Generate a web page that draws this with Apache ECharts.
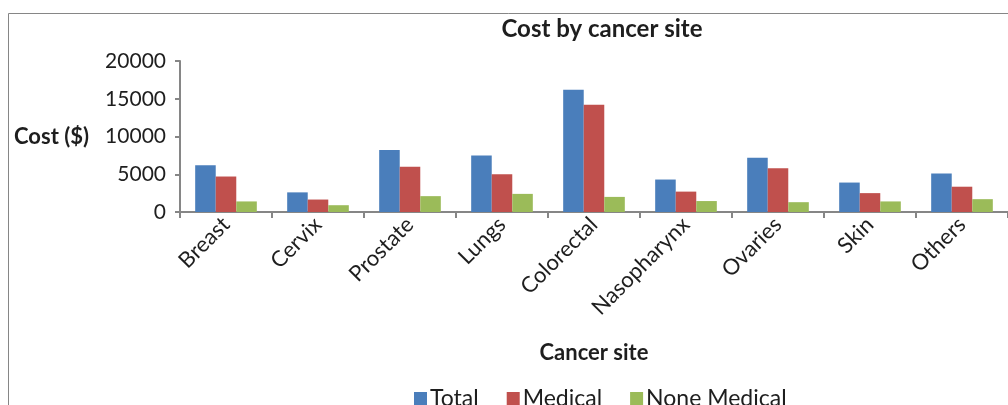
<!DOCTYPE html>
<html>
<head>
<meta charset="utf-8">
<script src="https://cdn.jsdelivr.net/npm/echarts@6/dist/echarts.min.js"></script>
<style>
html,body{margin:0;padding:0;background:#fff;}
#chart{width:1008px;height:405px;}
</style>
</head>
<body>
<div id="chart"></div>
<script>
const categories = ['Breast','Cervix','Prostate','Lungs','Colorectal','Nasopharynx','Ovaries','Skin','Others'];
const totalValues = [6200, 2600, 8200, 7500, 16200, 4300, 7200, 3900, 5100];
const medicalValues = [4700, 1650, 6000, 5000, 14200, 2700, 5800, 2500, 3350];
const noneMedicalValues = [1400, 900, 2100, 2400, 2000, 1450, 1300, 1400, 1700];
const seriesNames = ['Total','Medical','None Medical'];
const yTicks = { min: 0, max: 20000, interval: 5000 };

const FONT = 'Lato, "Open Sans", sans-serif';
const chart = echarts.init(document.getElementById('chart'), null, {renderer:'canvas'});
const axisColor = '#868686';
const textColor = '#1e1e1e';

chart.setOption({
  animation: false,
  textStyle: { fontFamily: FONT },
  graphic: [
    { type:'rect', z:-1, shape:{x:8.5, y:13.5, width:1100, height:500}, style:{fill:'#fff', stroke:axisColor, lineWidth:1} },
    { type:'text', left:14, top:126, style:{ text:'Cost ($)', font:'bold 22px ' + FONT, fill:textColor } }
  ],
  title: {
    text: 'Cost by cancer site',
    left: 597, top: 12, textAlign: 'center',
    textStyle: { fontFamily: FONT, fontWeight: 'bold', fontSize: 24, color: textColor }
  },
  legend: {
    data: seriesNames,
    left: 409, top: 382,
    itemWidth: 13, itemHeight: 13, itemGap: 28,
    icon: 'rect',
    textStyle: { fontFamily: FONT, fontSize: 23, color: textColor, padding:[0,0,0,-2] }
  },
  grid: { left: 180, top: 61, width: 833, height: 151, containLabel: false },
  xAxis: {
    type: 'category',
    data: categories,
    name: 'Cancer site',
    nameLocation: 'middle',
    nameGap: 130,
    nameTextStyle: { fontFamily: FONT, fontWeight: 'bold', fontSize: 22, color: textColor },
    axisLine: { lineStyle: { color: axisColor, width: 2 } },
    axisTick: { show: true, length: 6, lineStyle: { color: axisColor, width: 2 } },
    axisLabel: { rotate: 45, margin: 9, fontFamily: FONT, fontSize: 22, color: textColor, interval: 0 }
  },
  yAxis: {
    type: 'value',
    min: yTicks.min, max: yTicks.max, interval: yTicks.interval,
    axisLine: { show: true, lineStyle: { color: axisColor, width: 2 } },
    axisTick: { show: true, length: 5, lineStyle: { color: axisColor, width: 2 } },
    splitLine: { show: false },
    axisLabel: { margin: 14, fontFamily: FONT, fontSize: 21, color: textColor, formatter: function(v){ return String(v); } }
  },
  series: [
    { name: seriesNames[0], type: 'bar', data: totalValues, barGap: '0%', barCategoryGap: '33%', itemStyle: { color: '#4A7EBB' } },
    { name: seriesNames[1], type: 'bar', data: medicalValues, itemStyle: { color: '#C0504D' } },
    { name: seriesNames[2], type: 'bar', data: noneMedicalValues, itemStyle: { color: '#9BBB59' } }
  ]
});
</script>
</body>
</html>
